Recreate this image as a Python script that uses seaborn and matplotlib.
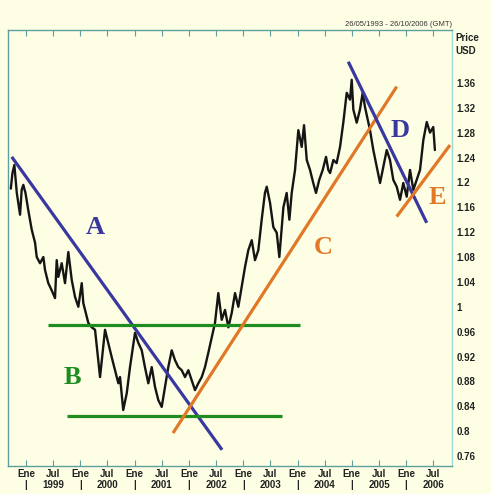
import matplotlib
matplotlib.use("Agg")
import matplotlib.pyplot as plt
import seaborn as sns
import pandas as pd
import numpy as np

# ---------------- data ----------------
dates = [1998.72, 1998.75, 1998.785, 1998.83, 1998.89, 1998.92, 1998.95, 1998.99,
         1999.04, 1999.105, 1999.166, 1999.197, 1999.258, 1999.319, 1999.35, 1999.41,
         1999.47, 1999.534, 1999.565, 1999.595, 1999.657, 1999.718, 1999.779, 1999.842,
         1999.902, 1999.963, 2000.026, 2000.055, 2000.147, 2000.21, 2000.271, 2000.363,
         2000.455, 2000.578, 2000.70, 2000.731, 2000.79, 2000.855, 2000.915, 2001.007,
         2001.068, 2001.131, 2001.19, 2001.252, 2001.315, 2001.376, 2001.436, 2001.499,
         2001.56, 2001.62, 2001.683, 2001.744, 2001.805, 2001.867, 2001.928, 2001.989,
         2002.05, 2002.112, 2002.173, 2002.236, 2002.296, 2002.357, 2002.42, 2002.48,
         2002.541, 2002.604, 2002.665, 2002.726, 2002.788, 2002.849, 2002.91, 2002.972,
         2003.033, 2003.094, 2003.157, 2003.217, 2003.278, 2003.34, 2003.40, 2003.433,
         2003.494, 2003.555, 2003.617, 2003.665, 2003.709, 2003.74, 2003.80, 2003.85,
         2003.893, 2003.954, 2004.015, 2004.077, 2004.12, 2004.17, 2004.23, 2004.29,
         2004.34, 2004.40, 2004.464, 2004.525, 2004.567, 2004.60, 2004.66, 2004.72,
         2004.783, 2004.843, 2004.906, 2004.967, 2004.998, 2005.028, 2005.09, 2005.15,
         2005.20, 2005.243, 2005.304, 2005.335, 2005.396, 2005.459, 2005.52, 2005.58,
         2005.643, 2005.703, 2005.764, 2005.827, 2005.888, 2005.948, 2006.011, 2006.072,
         2006.133, 2006.195, 2006.256, 2006.317, 2006.38, 2006.44, 2006.50, 2006.53]
prices = [1.190, 1.215, 1.228, 1.183, 1.148, 1.188, 1.196, 1.183,
          1.156, 1.124, 1.103, 1.080, 1.070, 1.080, 1.059, 1.038,
          1.027, 1.014, 1.075, 1.048, 1.070, 1.038, 1.088, 1.043,
          1.016, 1.000, 1.038, 1.006, 0.974, 0.967, 0.963, 0.887,
          0.963, 0.919, 0.877, 0.887, 0.834, 0.861, 0.903, 0.958,
          0.942, 0.930, 0.903, 0.877, 0.903, 0.871, 0.850, 0.839,
          0.871, 0.903, 0.930, 0.914, 0.903, 0.898, 0.887, 0.898,
          0.882, 0.866, 0.877, 0.887, 0.903, 0.926, 0.951, 0.974,
          1.022, 0.979, 0.995, 0.967, 0.990, 1.022, 1.000, 1.032,
          1.064, 1.091, 1.107, 1.075, 1.091, 1.140, 1.183, 1.193,
          1.167, 1.128, 1.119, 1.080, 1.128, 1.160, 1.183, 1.140,
          1.183, 1.220, 1.284, 1.257, 1.292, 1.236, 1.220, 1.199,
          1.183, 1.204, 1.220, 1.241, 1.220, 1.215, 1.236, 1.231,
          1.257, 1.296, 1.344, 1.333, 1.365, 1.317, 1.296, 1.317,
          1.344, 1.321, 1.296, 1.284, 1.252, 1.225, 1.199, 1.225,
          1.252, 1.236, 1.204, 1.193, 1.172, 1.199, 1.177, 1.220,
          1.188, 1.204, 1.220, 1.268, 1.297, 1.280, 1.289, 1.252]

# trend lines: start date, start price, end date, end price
line_A = [1998.737, 1.241, 2002.61, 0.770]
line_B_top = [1999.405, 0.971, 2004.046, 0.971]
line_B_bot = [1999.755, 0.825, 2003.714, 0.825]
line_C = [2001.707, 0.797, 2005.827, 1.354]
line_D = [2004.935, 1.394, 2006.379, 1.135]
line_E = [2005.827, 1.145, 2006.808, 1.260]

y_ticks = [0.76, 0.80, 0.84, 0.88, 0.92, 0.96, 1.00, 1.04, 1.08, 1.12,
           1.16, 1.20, 1.24, 1.28, 1.32, 1.36]
years = [1999, 2000, 2001, 2002, 2003, 2004, 2005, 2006]
date_range_text = "26/05/1993 - 26/10/2006 (GMT)"

# ---------------- style ----------------
bg = "#FEFEE4"
sns.set_theme(style="white", rc={"axes.facecolor": bg, "figure.facecolor": bg})
plt.rcParams["font.family"] = ["Liberation Sans", "DejaVu Sans"]

W, H = 491, 494
fig = plt.figure(figsize=(W / 100, H / 100), dpi=100)
ax = fig.add_axes([8 / W, (H - 466) / H, (452 - 8) / W, (466 - 30) / H])

df = pd.DataFrame({"date": dates, "price": prices})
sns.lineplot(data=df, x="date", y="price", ax=ax, color="#151515",
             linewidth=1.7, sort=False, estimator=None)

blue = "#3838A0"
green = "#1E8C1E"
orange = "#E07828"
for seg, col in [(line_A, blue), (line_B_top, green), (line_B_bot, green),
                 (line_C, orange), (line_D, blue), (line_E, orange)]:
    ax.plot([seg[0], seg[2]], [seg[1], seg[3]], color=col, linewidth=2.3,
            solid_capstyle="butt")

lab_font = dict(family=["Liberation Serif", "DejaVu Serif"], fontweight="bold",
                fontsize=19, ha="center", va="center")
ax.text(2000.27, 1.127, "A", color=blue, **lab_font)
ax.text(1999.85, 0.887, "B", color=green, **lab_font)
ax.text(2004.47, 1.096, "C", color=orange, **lab_font)
ax.text(2005.89, 1.284, "D", color=blue, **lab_font)
ax.text(2006.57, 1.175, "E", color=orange, **lab_font)

ax.set_xlim(1998.668, 2006.845)
ax.set_ylim(0.744, 1.445)

# x ticks
xt, xl = [], []
for y in years:
    xt += [y, y + 0.5]
    xl += ["Ene\n|", "Jul\n%d" % y]
ax.set_xticks(xt)
ax.set_xticklabels(xl, fontsize=7, fontweight="bold", color="#222222",
                   linespacing=1.15)
spine_col = "#5E9E9E"
ax.tick_params(axis="x", which="both", direction="in", top=True, bottom=True,
               length=4, width=0.8, color=spine_col, pad=2)

# y ticks on the right
ax.yaxis.tick_right()
ax.set_yticks(y_ticks)
ax.set_yticklabels([("%g" % round(v, 2)) for v in y_ticks], fontsize=7,
                   fontweight="bold", color="#222222")
ax.tick_params(axis="y", length=0, pad=3)
ax.set_xlabel("")
ax.set_ylabel("")

for s in ["left", "top", "bottom"]:
    ax.spines[s].set_color(spine_col)
    ax.spines[s].set_linewidth(1.0)
ax.spines["right"].set_color("#9ED6D6")
ax.spines["right"].set_linewidth(1.0)

fig.text(455 / W, 1 - 38 / H, "Price", fontsize=7, fontweight="bold",
         ha="left", va="center", color="#222222")
fig.text(455 / W, 1 - 51 / H, "USD", fontsize=7, fontweight="bold",
         ha="left", va="center", color="#222222")
fig.text(452 / W, 1 - 24 / H, date_range_text, fontsize=5.5, ha="right",
         va="center", color="#333333")

fig.savefig("out.png", dpi=100, facecolor=bg)
